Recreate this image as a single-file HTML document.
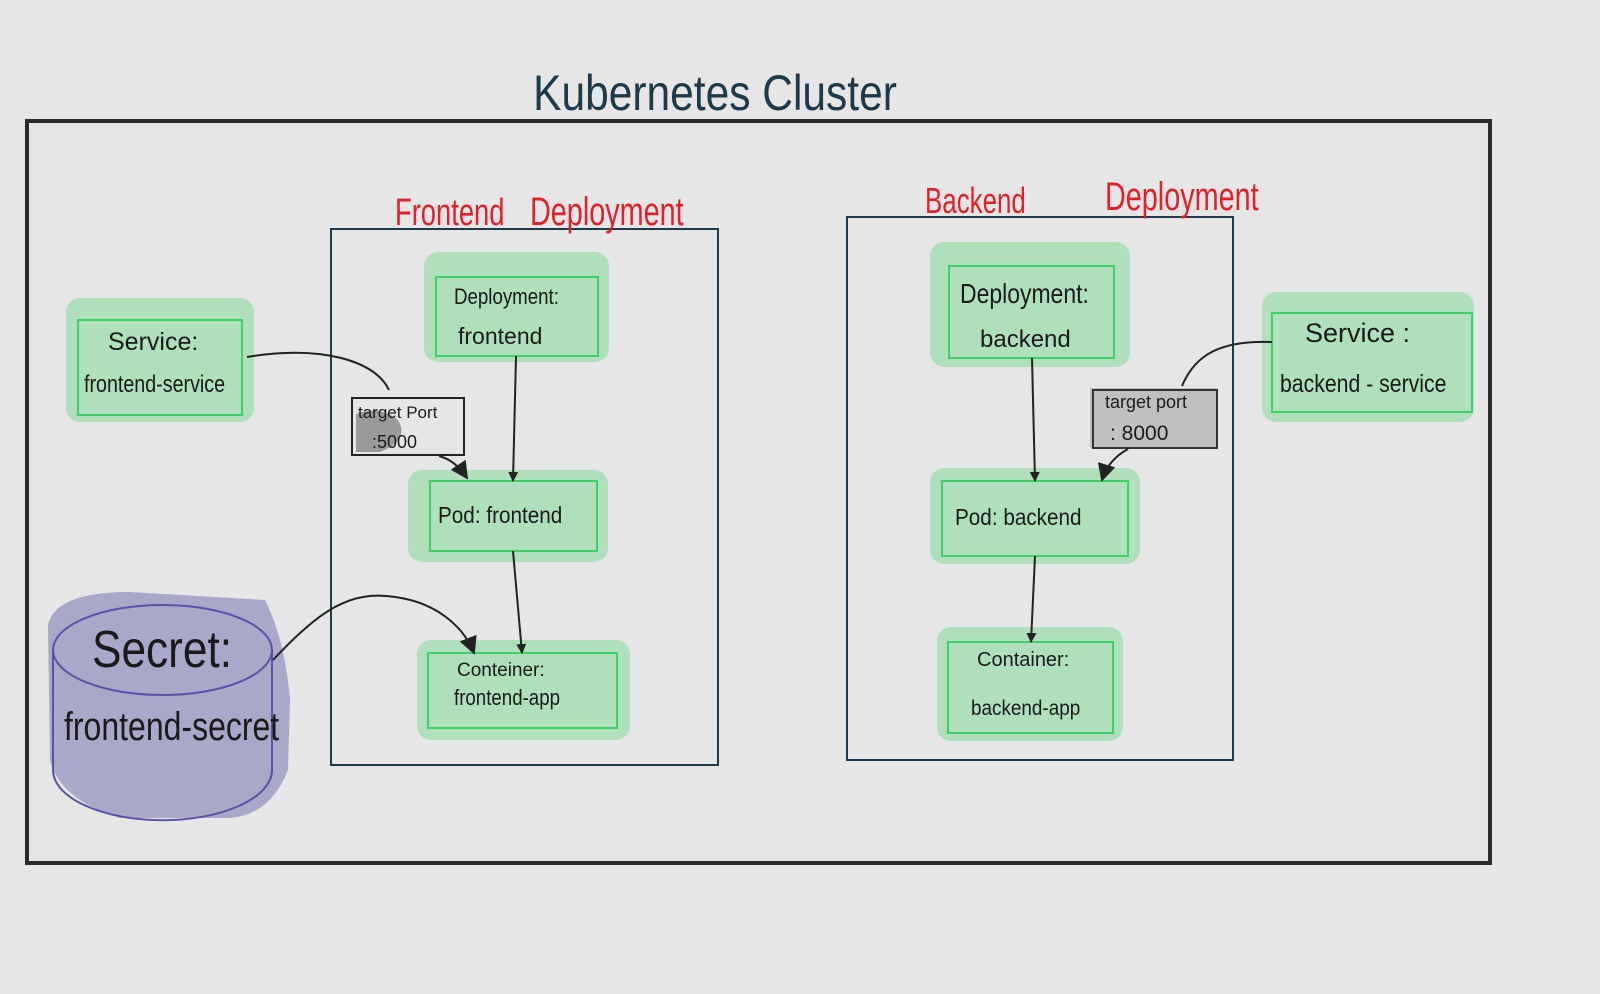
<!DOCTYPE html>
<html><head><meta charset="utf-8"><style>
html,body{margin:0;padding:0;background:#e6e6e6;}
svg{display:block}
text{font-family:"Liberation Sans",sans-serif;}
</style></head><body>
<svg width="1600" height="994" viewBox="0 0 1600 994" xmlns="http://www.w3.org/2000/svg">
<defs>
<marker id="ah" markerWidth="10" markerHeight="10" refX="9" refY="5" orient="auto" markerUnits="userSpaceOnUse"><path d="M0,0 L10,5 L0,10 z" fill="#222"/></marker>
<marker id="ahb" markerWidth="18" markerHeight="18" refX="16" refY="9" orient="auto" markerUnits="userSpaceOnUse"><path d="M0,0 L18,9 L0,18 z" fill="#222"/></marker>
</defs>
<rect width="1600" height="994" fill="#e6e6e6"/>
<text x="715" y="110" font-size="50" fill="#1d3a4a" text-anchor="middle" transform="translate(715,0) scale(0.85,1) translate(-715,0)">Kubernetes Cluster</text>
<rect x="27" y="121" width="1463" height="742" fill="none" stroke="#2a2a2a" stroke-width="4"/>
<rect x="331" y="229" width="387" height="536" fill="none" stroke="#1f3a4a" stroke-width="2"/>
<rect x="847" y="217" width="386" height="543" fill="none" stroke="#1f3a4a" stroke-width="2"/>
<text x="395" y="225" font-size="38" fill="#e0202a" transform="translate(395,0) scale(0.72,1) translate(-395,0)">Frontend</text>
<text x="530" y="225" font-size="40" fill="#e0202a" transform="translate(530,0) scale(0.72,1) translate(-530,0)">Deployment</text>
<text x="925" y="213" font-size="36" fill="#e0202a" transform="translate(925,0) scale(0.72,1) translate(-925,0)">Backend</text>
<text x="1105" y="210" font-size="40" fill="#e0202a" transform="translate(1105,0) scale(0.72,1) translate(-1105,0)">Deployment</text>
<g fill="#b0dfbc">
<rect x="66" y="298" width="188" height="124" rx="14"/>
<rect x="424" y="252" width="185" height="110" rx="14"/>
<rect x="408" y="470" width="200" height="92" rx="14"/>
<rect x="417" y="640" width="213" height="100" rx="14"/>
<rect x="930" y="242" width="200" height="125" rx="14"/>
<rect x="930" y="468" width="210" height="96" rx="14"/>
<rect x="937" y="627" width="186" height="114" rx="14"/>
<rect x="1262" y="292" width="212" height="130" rx="14"/>
</g>
<g fill="none" stroke="#3fcf6c" stroke-width="2">
<rect x="78" y="320" width="164" height="95"/>
<rect x="436" y="277" width="162" height="79"/>
<rect x="430" y="481" width="167" height="70"/>
<rect x="428" y="653" width="189" height="75"/>
<rect x="949" y="266" width="165" height="92"/>
<rect x="942" y="481" width="186" height="75"/>
<rect x="948" y="642" width="165" height="91"/>
<rect x="1272" y="313" width="200" height="99"/>
</g>
<g font-size="25" fill="#1a1a1a">
<text x="108" y="350">Service:</text>
<text x="84" y="392" font-size="24" transform="translate(84,0) scale(0.82,1) translate(-84,0)">frontend-service</text>
<text x="454" y="304" font-size="22" transform="translate(454,0) scale(0.85,1) translate(-454,0)">Deployment:</text>
<text x="458" y="344" font-size="23">frontend</text>
<text x="438" y="523" font-size="23" transform="translate(438,0) scale(0.9,1) translate(-438,0)">Pod: frontend</text>
<text x="457" y="676" font-size="19">Conteiner:</text>
<text x="454" y="705" font-size="22" transform="translate(454,0) scale(0.85,1) translate(-454,0)">frontend-app</text>
<text x="960" y="303" font-size="28" transform="translate(960,0) scale(0.82,1) translate(-960,0)">Deployment:</text>
<text x="980" y="347" font-size="24">backend</text>
<text x="955" y="525" font-size="23" transform="translate(955,0) scale(0.9,1) translate(-955,0)">Pod:  backend</text>
<text x="977" y="666" font-size="20">Container:</text>
<text x="971" y="715" font-size="21" transform="translate(971,0) scale(0.9,1) translate(-971,0)">backend-app</text>
<text x="1305" y="342" font-size="27">Service :</text>
<text x="1280" y="392" font-size="25" transform="translate(1280,0) scale(0.85,1) translate(-1280,0)">backend - service</text>
</g>
<path d="M356,414 Q380,405 398,420 Q410,440 380,452 L356,452 Z" fill="#9a9a9a"/>
<rect x="352" y="398" width="112" height="57" fill="none" stroke="#222" stroke-width="2"/>
<text x="358" y="418" font-size="17" fill="#1a1a1a">target Port</text>
<text x="372" y="448" font-size="18" fill="#1a1a1a">:5000</text>
<rect x="1090" y="388" width="127" height="60" fill="#c0c0c0"/>
<rect x="1093" y="390" width="124" height="58" fill="none" stroke="#333" stroke-width="2"/>
<text x="1105" y="408" font-size="18" fill="#1a1a1a">target port</text>
<text x="1110" y="440" font-size="21" fill="#1a1a1a">: 8000</text>
<path d="M48,625 Q55,592 130,592 L265,600 Q285,640 290,700 L288,770 Q270,815 230,818 L120,818 Q60,800 50,760 Z" fill="#a9a8c9"/>
<path d="M53,650 L53,770 A109,50 0 0 0 272,770 L272,650" fill="none" stroke="#5a53a8" stroke-width="2"/>
<ellipse cx="162.5" cy="650" rx="109.5" ry="45" fill="none" stroke="#5a53a8" stroke-width="2"/>
<text x="92" y="667" font-size="52" fill="#1a1a1a" transform="translate(92,0) scale(0.85,1) translate(-92,0)">Secret:</text>
<text x="64" y="740" font-size="40" fill="#1a1a1a" transform="translate(64,0) scale(0.8,1) translate(-64,0)">frontend-secret</text>
<g fill="none" stroke="#222" stroke-width="2">
<line x1="516" y1="356" x2="513" y2="481" marker-end="url(#ah)"/>
<line x1="513" y1="551" x2="522" y2="653" marker-end="url(#ah)"/>
<path d="M247,357 C320,345 375,360 389,390"/>
<path d="M439,456 Q455,460 467,478" marker-end="url(#ahb)"/>
<path d="M273,660 C320,610 350,590 395,597 C440,603 465,630 474,653" marker-end="url(#ahb)"/>
<line x1="1032" y1="358" x2="1035" y2="481" marker-end="url(#ah)"/>
<line x1="1035" y1="556" x2="1031" y2="642" marker-end="url(#ah)"/>
<path d="M1272,342 C1220,340 1195,355 1182,386"/>
<path d="M1128,449 Q1108,460 1102,480" marker-end="url(#ahb)"/>
</g>
</svg>
</body></html>
